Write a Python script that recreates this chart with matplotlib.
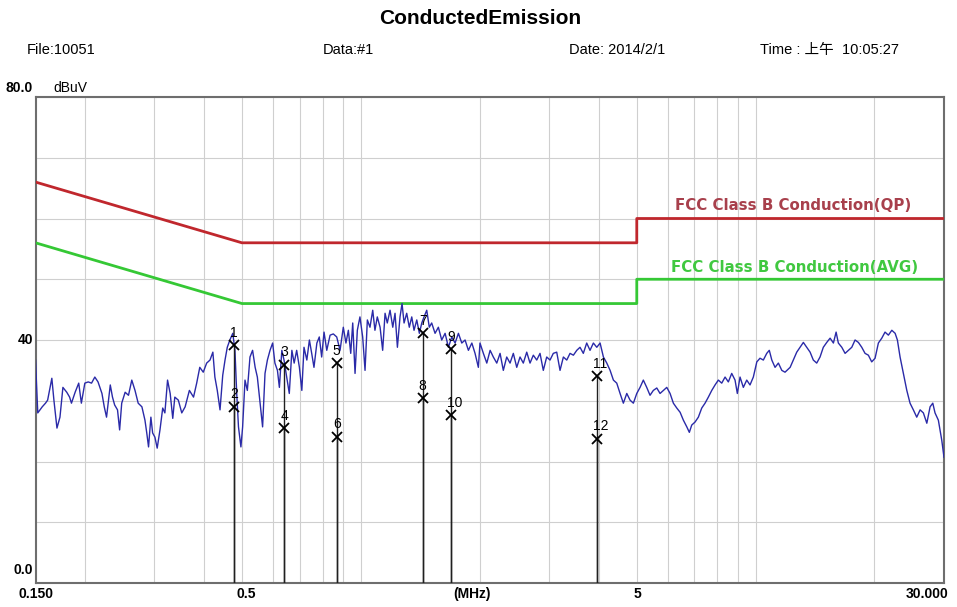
"""
Conducted Emission scan (FCC Class B) - redraw of the EMI receiver plot.
"""
import matplotlib
matplotlib.use("Agg")
import matplotlib.pyplot as plt
from matplotlib.ticker import NullLocator

plt.rcParams['font.family'] = ['Liberation Sans', 'Noto Sans CJK SC', 'DejaVu Sans']

freq = [
    0.150, 0.152, 0.156, 0.159, 0.161, 0.165, 0.167, 0.170, 0.173, 0.176,
    0.180, 0.183, 0.185, 0.189, 0.193, 0.196, 0.200, 0.204, 0.208, 0.212,
    0.216, 0.221, 0.224, 0.227, 0.232, 0.235, 0.238, 0.242, 0.245, 0.248,
    0.253, 0.258, 0.263, 0.268, 0.273, 0.279, 0.284, 0.287, 0.290, 0.294,
    0.297, 0.301, 0.305, 0.310, 0.315, 0.319, 0.324, 0.329, 0.334, 0.338,
    0.345, 0.352, 0.359, 0.368,
    0.377, 0.384, 0.391, 0.399, 0.407, 0.415, 0.422, 0.427, 0.433, 0.440,
    0.447, 0.453, 0.459, 0.466, 0.474, 0.480, 0.485, 0.490, 0.497, 0.502,
    0.509, 0.516, 0.524, 0.532, 0.540, 0.547, 0.556, 0.564, 0.572, 0.580,
    0.589, 0.598, 0.606, 0.615, 0.622, 0.631, 0.639, 0.649, 0.659, 0.669,
    0.678, 0.688, 0.699, 0.709, 0.718, 0.730, 0.741, 0.751, 0.761, 0.774,
    0.785, 0.796, 0.807, 0.820, 0.836,
    0.852, 0.869, 0.886, 0.903, 0.917, 0.930, 0.943, 0.954, 0.967, 0.980,
    0.995, 1.011, 1.025, 1.039, 1.055, 1.072, 1.086, 1.101, 1.119, 1.136,
    1.152, 1.167, 1.186, 1.205, 1.221, 1.238, 1.257, 1.272, 1.287, 1.307,
    1.327, 1.346, 1.364, 1.386, 1.407, 1.427, 1.446, 1.469, 1.491, 1.512,
    1.542, 1.572, 1.603, 1.635, 1.667, 1.700, 1.733, 1.767, 1.802, 1.837,
    1.873, 1.911, 1.947, 1.985,
    2.004, 2.044, 2.085, 2.126, 2.166, 2.210, 2.253, 2.296, 2.342, 2.388,
    2.434, 2.483, 2.531, 2.580, 2.632, 2.683, 2.735, 2.790, 2.844, 2.899,
    2.957, 3.015, 3.073, 3.135, 3.196, 3.259, 3.324, 3.388, 3.455, 3.524,
    3.591, 3.661, 3.734, 3.807, 3.882, 3.960, 4.037, 4.116, 4.198, 4.280,
    4.363, 4.449, 4.536, 4.624, 4.717,
    4.808, 4.902, 5.000, 5.097, 5.195, 5.299, 5.402, 5.507, 5.619, 5.727,
    5.839, 5.956, 6.072, 6.190, 6.314, 6.438, 6.562, 6.694, 6.794, 6.890,
    7.025, 7.161, 7.304, 7.446, 7.591, 7.743, 7.893, 8.046, 8.207, 8.368,
    8.529, 8.699, 8.869, 8.988, 9.131, 9.309, 9.495, 9.678, 9.867, 10.07,
    10.26, 10.46, 10.67, 10.83, 10.99, 11.20, 11.42,
    11.65, 11.87, 12.23, 12.46, 12.71, 12.96, 13.21, 13.47, 13.74, 14.00,
    14.28, 14.56, 14.84, 15.14, 15.44, 15.74, 15.99, 16.20, 16.53, 16.85,
    17.18, 17.52, 17.86, 18.21, 18.57, 18.93, 19.30, 19.68, 20.07, 20.46,
    20.87, 21.27, 21.69, 22.13, 22.56, 22.86, 23.22, 23.67, 24.15, 24.61,
    25.09, 25.59, 26.10, 26.60, 27.14, 27.66, 28.10, 28.47, 29.03, 29.61,
    30.00,
]
level = [
    36.7, 28.0, 29.0, 29.6, 30.1, 33.7, 30.1, 25.5, 27.3, 32.2,
    31.4, 30.6, 29.6, 31.4, 32.9, 29.6, 32.9, 33.1, 32.9, 33.9,
    33.1, 31.2, 29.0, 27.3, 32.6, 30.6, 29.3, 28.5, 25.2, 29.6,
    31.4, 30.9, 33.4, 31.7, 29.6, 29.0, 26.8, 24.7, 22.4, 27.3,
    24.7, 24.0, 22.2, 25.2, 28.8, 28.0, 33.4, 31.2, 27.1, 30.6,
    30.1, 28.0, 29.0, 31.7,
    30.6, 32.9, 35.5, 34.7, 36.2, 36.7, 38.0, 33.9, 31.7, 28.5,
    34.2, 36.7, 38.8, 40.0, 41.1, 38.3, 31.2, 25.7, 22.4, 25.7,
    33.4, 31.7, 37.2, 38.3, 35.5, 33.9, 29.6, 25.7, 34.5, 36.7,
    38.3, 39.5, 36.2, 35.0, 32.2, 38.3, 36.7, 33.9, 31.2, 38.3,
    36.2, 38.3, 35.5, 31.7, 38.8, 36.7, 40.0, 37.8, 35.5, 39.5,
    40.5, 37.2, 41.3, 38.3, 40.8,
    41.0, 40.5, 38.3, 42.1, 39.5, 41.6, 37.8, 42.8, 34.5, 41.6,
    43.8, 40.5, 35.0, 43.3, 42.1, 44.9, 41.6, 43.8, 42.1, 38.3,
    44.4, 42.8, 44.9, 42.1, 44.4, 38.8, 43.8, 46.0, 42.8, 44.4,
    42.1, 43.8, 41.6, 43.3, 41.1, 42.8, 43.8, 44.9, 42.1, 42.8,
    41.1, 42.1, 40.0, 41.1, 38.8, 40.5, 39.5, 41.1, 39.5, 40.0,
    38.3, 39.5, 37.8, 35.5,
    39.5, 37.8, 36.2, 38.3, 37.2, 36.2, 37.8, 35.0, 37.2, 36.2,
    37.8, 35.5, 37.2, 36.2, 38.0, 36.2, 37.5, 36.7, 37.8, 35.0,
    37.2, 36.7, 37.8, 38.0, 35.0, 37.2, 36.7, 37.8, 37.5, 38.3,
    38.8, 37.8, 39.5, 38.3, 39.5, 38.8, 39.5, 37.2, 36.2, 35.0,
    33.4, 32.9, 31.2, 29.6, 31.2,
    30.1, 29.6, 31.2, 32.2, 33.4, 32.2, 30.9, 31.7, 32.1, 31.2,
    31.7, 32.2, 31.2, 29.6, 28.8, 28.1, 26.8, 25.7, 24.8, 26.0,
    26.5, 27.3, 28.8, 29.6, 30.6, 31.7, 32.6, 33.4, 32.9, 33.9,
    33.1, 34.5, 33.4, 31.2, 33.9, 32.2, 33.4, 32.6, 33.9, 36.4,
    37.0, 36.7, 37.8, 38.3, 36.7, 35.5, 36.2,
    35.0, 34.7, 35.5, 36.7, 38.0, 38.8, 39.6, 38.8, 38.0, 36.7,
    36.2, 37.2, 38.8, 39.6, 40.3, 39.5, 41.3, 39.5, 38.8, 37.8,
    38.3, 38.8, 40.0, 39.6, 38.8, 37.8, 37.5, 36.4, 37.0, 39.5,
    40.3, 41.3, 40.8, 41.6, 41.1, 40.0, 37.2, 34.5, 31.7, 29.6,
    28.5, 27.3, 28.5, 28.0, 26.3, 29.0, 29.6, 28.0, 26.8, 23.5,
    20.7,
]

# --- FCC Class B conducted limits ---
qp_freq = [0.15, 0.5, 5, 5, 30]
qp_level = [66, 56, 56, 60, 60]
avg_freq = [0.15, 0.5, 5, 5, 30]
avg_level = [56, 46, 46, 50, 50]

# --- markers ---
mk_no = [1, 2, 3, 4, 5, 6, 7, 8, 9, 10, 11, 12]
mk_freq = [0.477, 0.477, 0.639, 0.639, 0.869, 0.869,
           1.435, 1.435, 1.690, 1.690, 3.96, 3.96]
mk_level = [39.1, 29.0, 35.9, 25.5, 36.2, 24.1,
            41.1, 30.4, 38.5, 27.6, 34.0, 23.7]

W, H = 957, 607


def px(x, y):
    # pixel position -> figure fraction
    return x / W, 1 - y / H


fig = plt.figure(figsize=(W / 100, H / 100), dpi=100)
ax = fig.add_axes([35.5 / W, 1 - 583 / H, (944 - 35.5) / W, (583 - 97) / H])

ax.set_xscale('log')
ax.set_xlim(0.15, 30)
ax.set_ylim(0, 80)
gx = [0.2, 0.3, 0.4, 0.5, 0.6, 0.7, 0.8, 0.9, 1, 2, 3, 4, 5, 6, 7, 8, 9, 10, 20]
ax.set_xticks(gx)
ax.xaxis.set_minor_locator(NullLocator())
ax.set_yticks(range(0, 81, 10))
ax.grid(True, color='#cfcfcf', lw=0.8)
ax.tick_params(length=0, labelbottom=False, labelleft=False)
for s in ax.spines.values():
    s.set_color('#6e6e6e')
    s.set_linewidth(1.5)

# limit lines
ax.plot(qp_freq, qp_level, color='#c0272d', lw=2, zorder=3)
ax.plot(avg_freq, avg_level, color='#35c835', lw=2, zorder=3)
ax.text(6.25, 62.2, 'FCC Class B Conduction(QP)', color='#a8404c',
        fontsize=10.8, fontweight='bold', family='DejaVu Sans', va='center')
ax.text(6.1, 51.9, 'FCC Class B Conduction(AVG)', color='#40c840',
        fontsize=10.8, fontweight='bold', family='DejaVu Sans', va='center')

# trace
ax.plot(freq, level, color='#2a2aa8', lw=1.0, zorder=4)

# markers
ax.vlines(mk_freq, 0, mk_level, color='#202020', lw=1.0, zorder=5)
ax.plot(mk_freq, mk_level, 'x', color='black', ms=7, mew=1.3, zorder=6)
for n, f, v in zip(mk_no, mk_freq, mk_level):
    if n < 10:
        ax.annotate(str(n), (f, v), xytext=(0, 4), textcoords='offset points',
                    ha='center', va='bottom', fontsize=10, zorder=7)
    else:
        ax.annotate(str(n), (f, v), xytext=(-3, 4), textcoords='offset points',
                    ha='left', va='bottom', fontsize=10, zorder=7)

# title and header
fig.text(*px(480, 19), 'ConductedEmission', ha='center', va='center',
         fontsize=15, fontweight='bold')
fig.text(*px(27, 50), 'File:10051', va='center', fontsize=10.5)
fig.text(*px(323, 50), 'Data:#1', va='center', fontsize=10.5)
fig.text(*px(569, 50), 'Date: 2014/2/1', va='center', fontsize=10.5)
fig.text(*px(760, 50), 'Time : 上午  10:05:27', va='center', fontsize=10.5)

# axis labels
fig.text(*px(6, 88), '80.0', va='center', fontsize=10, fontweight='bold')
fig.text(*px(53, 88), 'dBuV', va='center', fontsize=10)
fig.text(*px(33, 340), '40', ha='right', va='center', fontsize=10, fontweight='bold')
fig.text(*px(33, 570), '0.0', ha='right', va='center', fontsize=10, fontweight='bold')
fig.text(*px(36, 594), '0.150', ha='center', va='center', fontsize=10, fontweight='bold')
fig.text(*px(246, 594), '0.5', ha='center', va='center', fontsize=10, fontweight='bold')
fig.text(*px(472, 594), '(MHz)', ha='center', va='center', fontsize=10, fontweight='bold')
fig.text(*px(637, 594), '5', ha='center', va='center', fontsize=10, fontweight='bold')
fig.text(*px(927, 594), '30.000', ha='center', va='center', fontsize=10, fontweight='bold')

fig.savefig('out.png', dpi=100, facecolor='white')
